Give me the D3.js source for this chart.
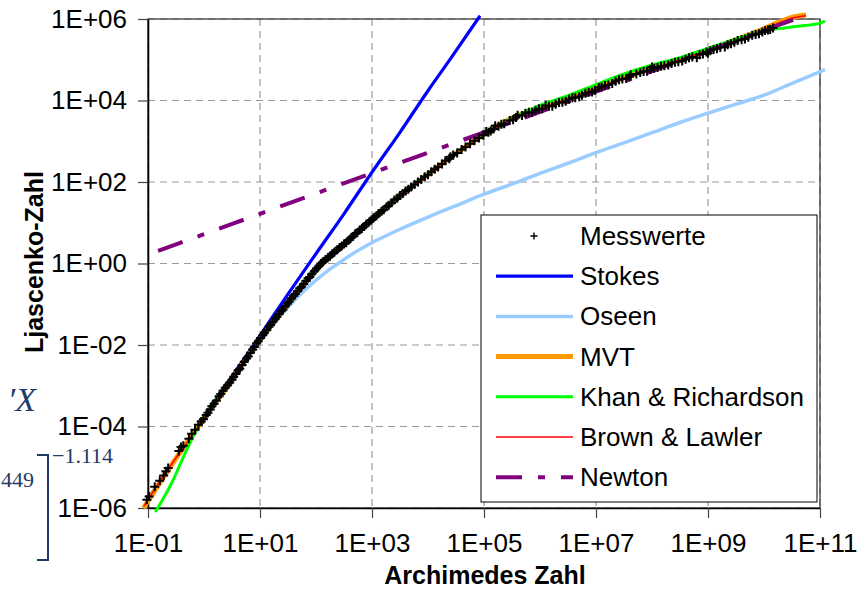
<!DOCTYPE html>
<html>
<head>
<meta charset="utf-8">
<script src="https://cdn.jsdelivr.net/npm/d3@7"></script>
<style>
    body { margin: 0; background: #fff; }
    svg { font-family: "Liberation Sans", Arial, sans-serif; }
</style>
</head>
<body>
<svg id="chart" width="861" height="590"></svg>
<script>
// every pair is [log10 Ar, log10 Ly]
var messwerte = [
    [-1.02,-5.80],[-0.98,-5.72],[-0.88,-5.48],[-0.79,-5.33],[-0.72,-5.20],[-0.68,-5.10],[-0.64,-5.02],
    [-0.45,-4.60],[-0.41,-4.50],[-0.37,-4.47],[-0.27,-4.30],[-0.22,-4.18],[-0.16,-4.08],[-0.10,-3.96],
    [-0.05,-3.88],[-0.01,-3.82],[0.04,-3.72],[0.07,-3.66],[0.11,-3.58],[0.14,-3.50],[0.18,-3.44],
    [0.22,-3.37],[0.27,-3.26],[0.30,-3.20],[0.34,-3.12],[0.38,-3.05],[0.42,-2.99],[0.46,-2.92],
    [0.50,-2.85],[0.53,-2.78],[0.57,-2.71],[0.61,-2.62],[0.64,-2.58],[0.68,-2.49],[0.72,-2.41],
    [0.76,-2.33],[0.79,-2.28],[0.83,-2.19],[0.87,-2.11],[0.90,-2.05],[0.94,-1.96],[0.97,-1.91],
    [1.01,-1.83],[1.05,-1.76],[1.08,-1.70],[1.12,-1.64],[1.16,-1.55],[1.19,-1.51],[1.23,-1.43],
    [1.27,-1.37],[1.30,-1.31],[1.34,-1.24],[1.38,-1.17],[1.41,-1.13],[1.45,-1.05],[1.49,-0.99],
    [1.52,-0.93],[1.56,-0.86],[1.60,-0.80],[1.63,-0.75],[1.67,-0.68],[1.71,-0.61],[1.74,-0.57],
    [1.78,-0.50],[1.82,-0.43],[1.86,-0.36],[1.89,-0.33],[1.93,-0.25],[1.97,-0.19],[2.01,-0.12],
    [2.05,-0.07],[2.09,0.00],[2.13,0.05],[2.17,0.10],[2.21,0.14],[2.25,0.18],[2.29,0.24],
    [2.33,0.28],[2.38,0.34],[2.42,0.39],[2.46,0.43],[2.50,0.48],[2.54,0.51],[2.58,0.57],
    [2.62,0.62],[2.66,0.66],[2.70,0.73],[2.74,0.76],[2.78,0.82],[2.82,0.86],[2.86,0.91],
    [2.90,0.97],[2.95,1.02],[2.99,1.07],[3.03,1.12],[3.08,1.17],[3.12,1.23],[3.17,1.28],
    [3.21,1.32],[3.26,1.39],[3.30,1.43],[3.35,1.49],[3.40,1.56],[3.45,1.60],[3.50,1.67],
    [3.55,1.72],[3.60,1.78],[3.65,1.82],[3.70,1.88],[3.76,1.94],[3.82,2.00],[3.88,2.06],
    [3.94,2.13],[4.00,2.18],[4.06,2.25],[4.12,2.31],[4.18,2.37],[4.25,2.44],[4.31,2.52],
    [4.38,2.57],[4.40,2.62],[4.45,2.66],[4.52,2.71],[4.60,2.80],[4.67,2.86],[4.75,2.94],
    [4.83,3.01],[4.91,3.08],[4.99,3.15],[5.04,3.24],[5.08,3.22],[5.17,3.30],[5.20,3.38],
    [5.26,3.37],[5.36,3.43],[5.46,3.51],[5.57,3.58],[5.60,3.64],[5.68,3.63],[5.80,3.71],
    [5.92,3.76],[6.04,3.80],[6.10,3.88],[6.16,3.86],[6.28,3.91],[6.40,3.96],[6.52,4.03],
    [6.63,4.07],[6.75,4.13],[6.87,4.20],[6.98,4.25],[7.05,4.32],[7.10,4.33],[7.22,4.38],
    [7.35,4.47],[7.47,4.53],[7.60,4.58],[7.62,4.63],[7.72,4.65],[7.85,4.71],[7.97,4.76],
    [8.00,4.82],[8.10,4.81],[8.22,4.85],[8.35,4.91],[8.47,4.95],[8.60,5.01],[8.72,5.07],
    [8.80,5.05],[8.85,5.12],[8.97,5.19],[9.00,5.16],[9.10,5.25],[9.22,5.30],[9.30,5.31],
    [9.35,5.37],[9.47,5.43],[9.60,5.49],[9.72,5.55],[9.85,5.62],[9.97,5.68],[10.07,5.73],
    [10.16,5.78],
    // second, slightly scattered run in the upper range
    [5.12,3.25],[5.31,3.42],[5.52,3.53],[5.74,3.69],[5.86,3.71],[5.98,3.80],[6.22,3.86],
    [6.34,3.95],[6.46,3.98],[6.58,4.07],[6.70,4.09],[6.81,4.18],[6.93,4.21],[7.16,4.37],
    [7.29,4.42],[7.41,4.51],[7.54,4.54],[7.79,4.69],[7.91,4.72],[8.04,4.79],[8.16,4.84],
    [8.29,4.87],[8.41,4.94],[8.54,4.97],[8.66,5.05],[8.91,5.14],[9.04,5.22],[9.16,5.27],
    [9.41,5.39],[9.53,5.47],[9.66,5.51],[9.79,5.60],[9.91,5.64],[10.02,5.72],[10.11,5.74]
];

var stokes = [
    [-1.0,-5.77],[0.0,-3.77],[1.0,-1.77],[1.5,-0.75],[2.0,0.24],[2.5,1.22],[3.0,2.24],
    [3.5,3.22],[4.0,4.24],[4.4,5.02],[4.7,5.62],[4.93,6.08]
];

var oseen = [
    [-1.0,-5.78],[-0.5,-4.78],[0.0,-3.80],[0.5,-2.85],[1.0,-1.88],[1.25,-1.46],[1.5,-1.07],
    [1.75,-0.72],[2.0,-0.41],[2.25,-0.14],[2.5,0.10],[2.75,0.32],[3.0,0.51],[3.25,0.68],
    [3.5,0.84],[3.75,0.99],[4.0,1.14],[4.5,1.42],[5.0,1.70],[5.5,1.95],[6.0,2.21],[6.5,2.46],
    [7.0,2.72],[7.5,2.96],[8.0,3.21],[8.5,3.46],[9.0,3.69],[9.5,3.91],[10.0,4.13],[10.5,4.42],
    [11.09,4.76]
];

var mvt = [
    [-1.08,-6.00],[-0.75,-5.30],[-0.5,-4.78],[-0.25,-4.29],[0.0,-3.80],[0.5,-2.85],[1.0,-1.86],
    [1.5,-0.98],[2.0,-0.15],[2.5,0.46],[3.0,1.08],[3.5,1.66],[4.0,2.19],[4.5,2.70],[5.0,3.17],
    [5.25,3.38],[5.5,3.57],[5.75,3.71],[6.0,3.83],[6.5,4.04],[7.0,4.30],[7.5,4.56],[8.0,4.79],
    [8.5,5.01],[9.0,5.24],[9.5,5.49],[10.0,5.76],[10.3,5.94],[10.5,6.04],[10.75,6.10]
];

var khanRichardson = [
    [-0.87,-6.10],[-0.55,-5.31],[-0.37,-4.75],[-0.10,-4.00],[0.2,-3.36],[0.5,-2.87],[1.0,-1.86],
    [1.5,-0.97],[2.0,-0.13],[2.5,0.48],[3.0,1.10],[3.5,1.68],[4.0,2.20],[4.5,2.70],[5.0,3.15],
    [5.5,3.56],[6.0,3.88],[6.5,4.12],[7.0,4.39],[7.5,4.65],[8.0,4.87],[8.5,5.05],[9.0,5.28],
    [9.5,5.51],[10.0,5.72],[10.3,5.77],[10.6,5.82],[11.0,5.90],[11.09,5.95]
];

var brownLawler = [
    [-1.07,-5.95],[-0.75,-5.27],[-0.5,-4.77],[-0.25,-4.29],[0.0,-3.80],[0.5,-2.85],[1.0,-1.85],
    [1.5,-0.98],[2.0,-0.15],[2.5,0.46],[3.0,1.08],[3.5,1.66],[4.0,2.18],[4.5,2.69],[5.0,3.15],
    [5.5,3.54],[6.0,3.80],[6.5,4.02],[7.0,4.28],[7.5,4.54],[8.0,4.77],[8.5,5.00],[9.0,5.23],
    [9.5,5.47],[10.0,5.74],[10.3,5.92],[10.5,6.02],[10.75,6.08]
];

var newton = [
    [-0.82,0.31],[0.0,0.72],[1.0,1.22],[2.0,1.72],[3.0,2.22],[4.0,2.72],[5.0,3.22],[6.0,3.72],
    [7.0,4.22],[8.0,4.72],[9.0,5.22],[10.0,5.72],[10.52,5.98]
];

var xTicks = [1e-1, 1e1, 1e3, 1e5, 1e7, 1e9, 1e11];
var yTicks = [1e-6, 1e-4, 1e-2, 1e0, 1e2, 1e4, 1e6];
var seriesNames = ["Messwerte", "Stokes", "Oseen", "MVT", "Khan & Richardson", "Brown & Lawler", "Newton"];

class DragChart {

    constructor() {
        this.svg = d3.select("#chart");
        this.left = 148;
        this.right = 820;
        this.top = 19;
        this.bottom = 508;
        this.x = d3.scaleLog().domain([1e-1, 1e11]).range([this.left, this.right]);
        this.y = d3.scaleLog().domain([1e-6, 1e6]).range([this.bottom, this.top]);
    }

    // Excel style "1E+06"
    expFormat(v) {
        var e = Math.round(Math.log10(v));
        var s = e < 0 ? "-" : "+";
        var a = Math.abs(e);
        return "1E" + s + (a < 10 ? "0" + a : a);
    }

    px(d) {
        return this.x(Math.pow(10, d[0]));
    }

    py(d) {
        return this.y(Math.pow(10, d[1]));
    }

    drawGrid() {
        var g = this.svg.append("g");
        g.selectAll("line.vx")
            .data(xTicks)
            .enter()
            .append("line")
            .attr("x1", (d) => this.x(d))
            .attr("x2", (d) => this.x(d))
            .attr("y1", this.top)
            .attr("y2", this.bottom);
        g.selectAll("line.hy")
            .data(yTicks)
            .enter()
            .append("line")
            .attr("x1", this.left)
            .attr("x2", this.right)
            .attr("y1", (d) => this.y(d))
            .attr("y2", (d) => this.y(d));
        g.selectAll("line")
            .attr("stroke", "#9a9a9a")
            .attr("stroke-width", 1.2)
            .attr("stroke-dasharray", "7,5");

        this.svg.append("rect")
            .attr("x", this.left)
            .attr("y", this.top)
            .attr("width", this.right - this.left)
            .attr("height", this.bottom - this.top)
            .attr("fill", "none")
            .attr("stroke", "#3a3a3a")
            .attr("stroke-width", 1.3);
    }

    drawAxes() {
        var xAxis = d3.axisBottom(this.x)
            .tickValues(xTicks)
            .tickFormat((d) => this.expFormat(d))
            .tickSizeInner(10)
            .tickSizeOuter(0)
            .tickPadding(16);
        var gx = this.svg.append("g")
            .attr("transform", "translate(0," + this.bottom + ")")
            .call(xAxis);

        var yAxis = d3.axisLeft(this.y)
            .tickValues(yTicks)
            .tickFormat((d) => this.expFormat(d))
            .tickSizeInner(10)
            .tickSizeOuter(0)
            .tickPadding(11);
        var gy = this.svg.append("g")
            .attr("transform", "translate(" + this.left + ",0)")
            .call(yAxis);

        [gx, gy].forEach(function (g) {
            g.select(".domain").attr("stroke", "#000").attr("stroke-width", 1.6);
            g.selectAll(".tick line").attr("stroke", "#444").attr("stroke-width", 1.2);
            g.selectAll(".tick text")
                .attr("fill", "#000")
                .style("font-family", "'Liberation Sans', Arial, sans-serif")
                .style("font-size", "26px");
        });

        this.svg.append("text")
            .attr("x", 485)
            .attr("y", 584)
            .attr("text-anchor", "middle")
            .style("font-weight", "bold")
            .style("font-size", "25px")
            .text("Archimedes Zahl");

        this.svg.append("text")
            .attr("transform", "translate(43,262) rotate(-90)")
            .attr("text-anchor", "middle")
            .style("font-weight", "bold")
            .style("font-size", "25px")
            .text("Ljascenko-Zahl");
    }

    drawCurves() {
        var line = d3.line()
            .x((d) => this.px(d))
            .y((d) => this.py(d))
            .curve(d3.curveMonotoneX);

        var curves = [
            {data: stokes, color: "#0000ff", width: 3.2, dash: null},
            {data: oseen, color: "#99ccff", width: 3.5, dash: null},
            {data: mvt, color: "#ff9900", width: 5, dash: null},
            {data: khanRichardson, color: "#00ff00", width: 3, dash: null},
            {data: brownLawler, color: "#ff0000", width: 1.5, dash: null},
            {data: newton, color: "#800080", width: 4, dash: "26,16,7,16"}
        ];
        this.curves = curves;

        this.svg.append("g")
            .selectAll("path")
            .data(curves)
            .enter()
            .append("path")
            .attr("d", (c) => line(c.data))
            .attr("fill", "none")
            .attr("stroke", (c) => c.color)
            .attr("stroke-width", (c) => c.width)
            .attr("stroke-dasharray", (c) => c.dash);
    }

    drawPoints() {
        this.svg.append("g")
            .selectAll("path")
            .data(messwerte)
            .enter()
            .append("path")
            .attr("transform", (d) => "translate(" + this.px(d) + "," + this.py(d) + ")")
            .attr("d", "M-4.5,0H4.5M0,-4.5V4.5")
            .attr("stroke", "#000")
            .attr("stroke-width", 2);
    }

    drawLegend() {
        var g = this.svg.append("g");
        g.append("rect")
            .attr("x", 481)
            .attr("y", 215)
            .attr("width", 336)
            .attr("height", 287)
            .attr("fill", "#fff")
            .attr("stroke", "#000")
            .attr("stroke-width", 1);

        var rowY = function (i) {
            return 236 + 40.2 * i;
        };

        g.append("path")
            .attr("transform", "translate(534," + rowY(0) + ")")
            .attr("d", "M-3.5,0H3.5M0,-3.5V3.5")
            .attr("stroke", "#000")
            .attr("stroke-width", 1.4);

        g.selectAll("line")
            .data(this.curves)
            .enter()
            .append("line")
            .attr("x1", 496)
            .attr("x2", 573)
            .attr("y1", (c, i) => rowY(i + 1))
            .attr("y2", (c, i) => rowY(i + 1))
            .attr("stroke", (c) => c.color)
            .attr("stroke-width", (c) => c.width)
            .attr("stroke-dasharray", (c) => c.dash);

        g.selectAll("text")
            .data(seriesNames)
            .enter()
            .append("text")
            .attr("x", 580)
            .attr("y", (d, i) => rowY(i) + 9)
            .style("font-size", "26px")
            .text((d) => d);
    }

    // leftovers of a formula that overlap the picture on the left
    drawNotes() {
        var blue = "#1f3a68";
        var serif = "'Liberation Serif', 'Times New Roman', serif";
        this.svg.append("text")
            .attr("x", 36).attr("y", 411)
            .attr("text-anchor", "end")
            .style("font-family", serif).style("font-style", "italic")
            .style("font-size", "34px").attr("fill", blue)
            .text("\u2032X");
        this.svg.append("text")
            .attr("x", 52).attr("y", 463)
            .style("font-family", serif).style("font-size", "22px").attr("fill", blue)
            .text("\u22121.114");
        this.svg.append("text")
            .attr("x", 1).attr("y", 487)
            .style("font-family", serif).style("font-size", "22px").attr("fill", blue)
            .text("449");
        this.svg.append("path")
            .attr("d", "M37,455H48V560H37")
            .attr("fill", "none")
            .attr("stroke", blue)
            .attr("stroke-width", 2);
    }

    draw() {
        this.drawNotes();
        this.drawGrid();
        this.drawAxes();
        this.drawCurves();
        this.drawPoints();
        this.drawLegend();
    }
}

var chart = new DragChart();
chart.draw();
</script>
</body>
</html>
